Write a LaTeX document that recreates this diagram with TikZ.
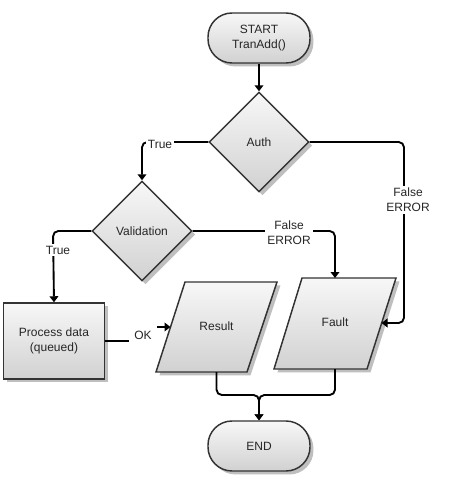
\documentclass[tikz,border=0pt]{standalone}
\usepackage{fontspec}
\setmainfont{Liberation Sans}
\usetikzlibrary{shapes.geometric,shadows,arrows.meta}
\begin{document}
\begin{tikzpicture}[x=0.75pt,y=-0.75pt,
  txt/.style={font=\fontsize{9}{11}\selectfont, text=black!85, align=center},
  skin/.style={draw=black!80, line width=1.1pt, top color=gray!6, bottom color=gray!36,
    drop shadow={shadow xshift=2.6pt, shadow yshift=-2.6pt, fill=gray!50, opacity=1}},
  box/.style={txt, skin, inner sep=0pt},
  term/.style={box, rectangle, rounded corners=18pt, minimum width=76.5pt, minimum height=37.5pt},
  dec/.style={box, diamond, minimum width=75pt, minimum height=75pt},
  proc/.style={box, rectangle, minimum width=75.75pt, minimum height=57pt},
  iotext/.style={txt, inner sep=0pt},
  arr/.style={line width=1.4pt, draw=black, -{Triangle[width=6.5pt,length=4.5pt]}, rounded corners=4pt},
  lbl/.style={txt, fill=white, inner sep=1.5pt}
]
\useasboundingbox (0,0) rectangle (456,491);
\node[term] (start) at (259,38) {START\\TranAdd()};
\node[dec] (auth) at (259,142) {Auth};
\node[dec] (val) at (142,231) {Validation};
\node[proc] (proc) at (54,341) {Process data\\(queued)};
% parallelograms
\path[skin] (185,282) -- (277,282) -- (247,372) -- (156,372) -- cycle;
\node[iotext] (res) at (216.5,326) {Result};
\path[skin] (302,278) -- (396,278) -- (367,369) -- (274,369) -- cycle;
\node[iotext] (fault) at (335,322) {Fault};
\node[term] (end) at (259,446) {END};

\coordinate (resw) at (170.5,327);
\coordinate (ress) at (216.5,372);
\coordinate (faultn) at (335,278);
\coordinate (faulte) at (381.5,323);
\coordinate (faults) at (335,369);

\coordinate (c1) at (142,142);
\coordinate (c2) at (404,142);
\coordinate (c3) at (404,323);
\coordinate (c4) at (53,231);
\coordinate (c5) at (335,231);
\coordinate (c6) at (143,341);
\coordinate (c7) at (143,327);
\coordinate (c8) at (216.5,395);
\coordinate (c9) at (335,395);
\coordinate (m) at (259,395);

\draw[arr] (start) -- (auth);
\draw[arr] (auth.west) -- (c1) -- (val.north);
\node[lbl] at (160,144) {True};
\draw[arr] (auth.east) -- (c2) -- (c3) -- (faulte);
\node[lbl] at (408,200) {False\\ERROR};
\draw[arr] (val.west) -- (c4) -- (proc.north);
\node[lbl] at (58,250) {True};
\draw[arr] (val.east) -- (c5) -- (faultn);
\node[lbl] at (289,233) {False\\ERROR};
\draw[arr, rounded corners=0pt] (proc.east) -- (c6) -- (c7) -- (resw);
\node[lbl, inner xsep=4pt, inner ysep=4pt] at (143,335) {OK};
\draw[arr] (ress) -- (c8) -- (m) -- (end.north);
\draw[arr] (faults) -- (c9) -- (m) -- (end.north);
\end{tikzpicture}
\end{document}
